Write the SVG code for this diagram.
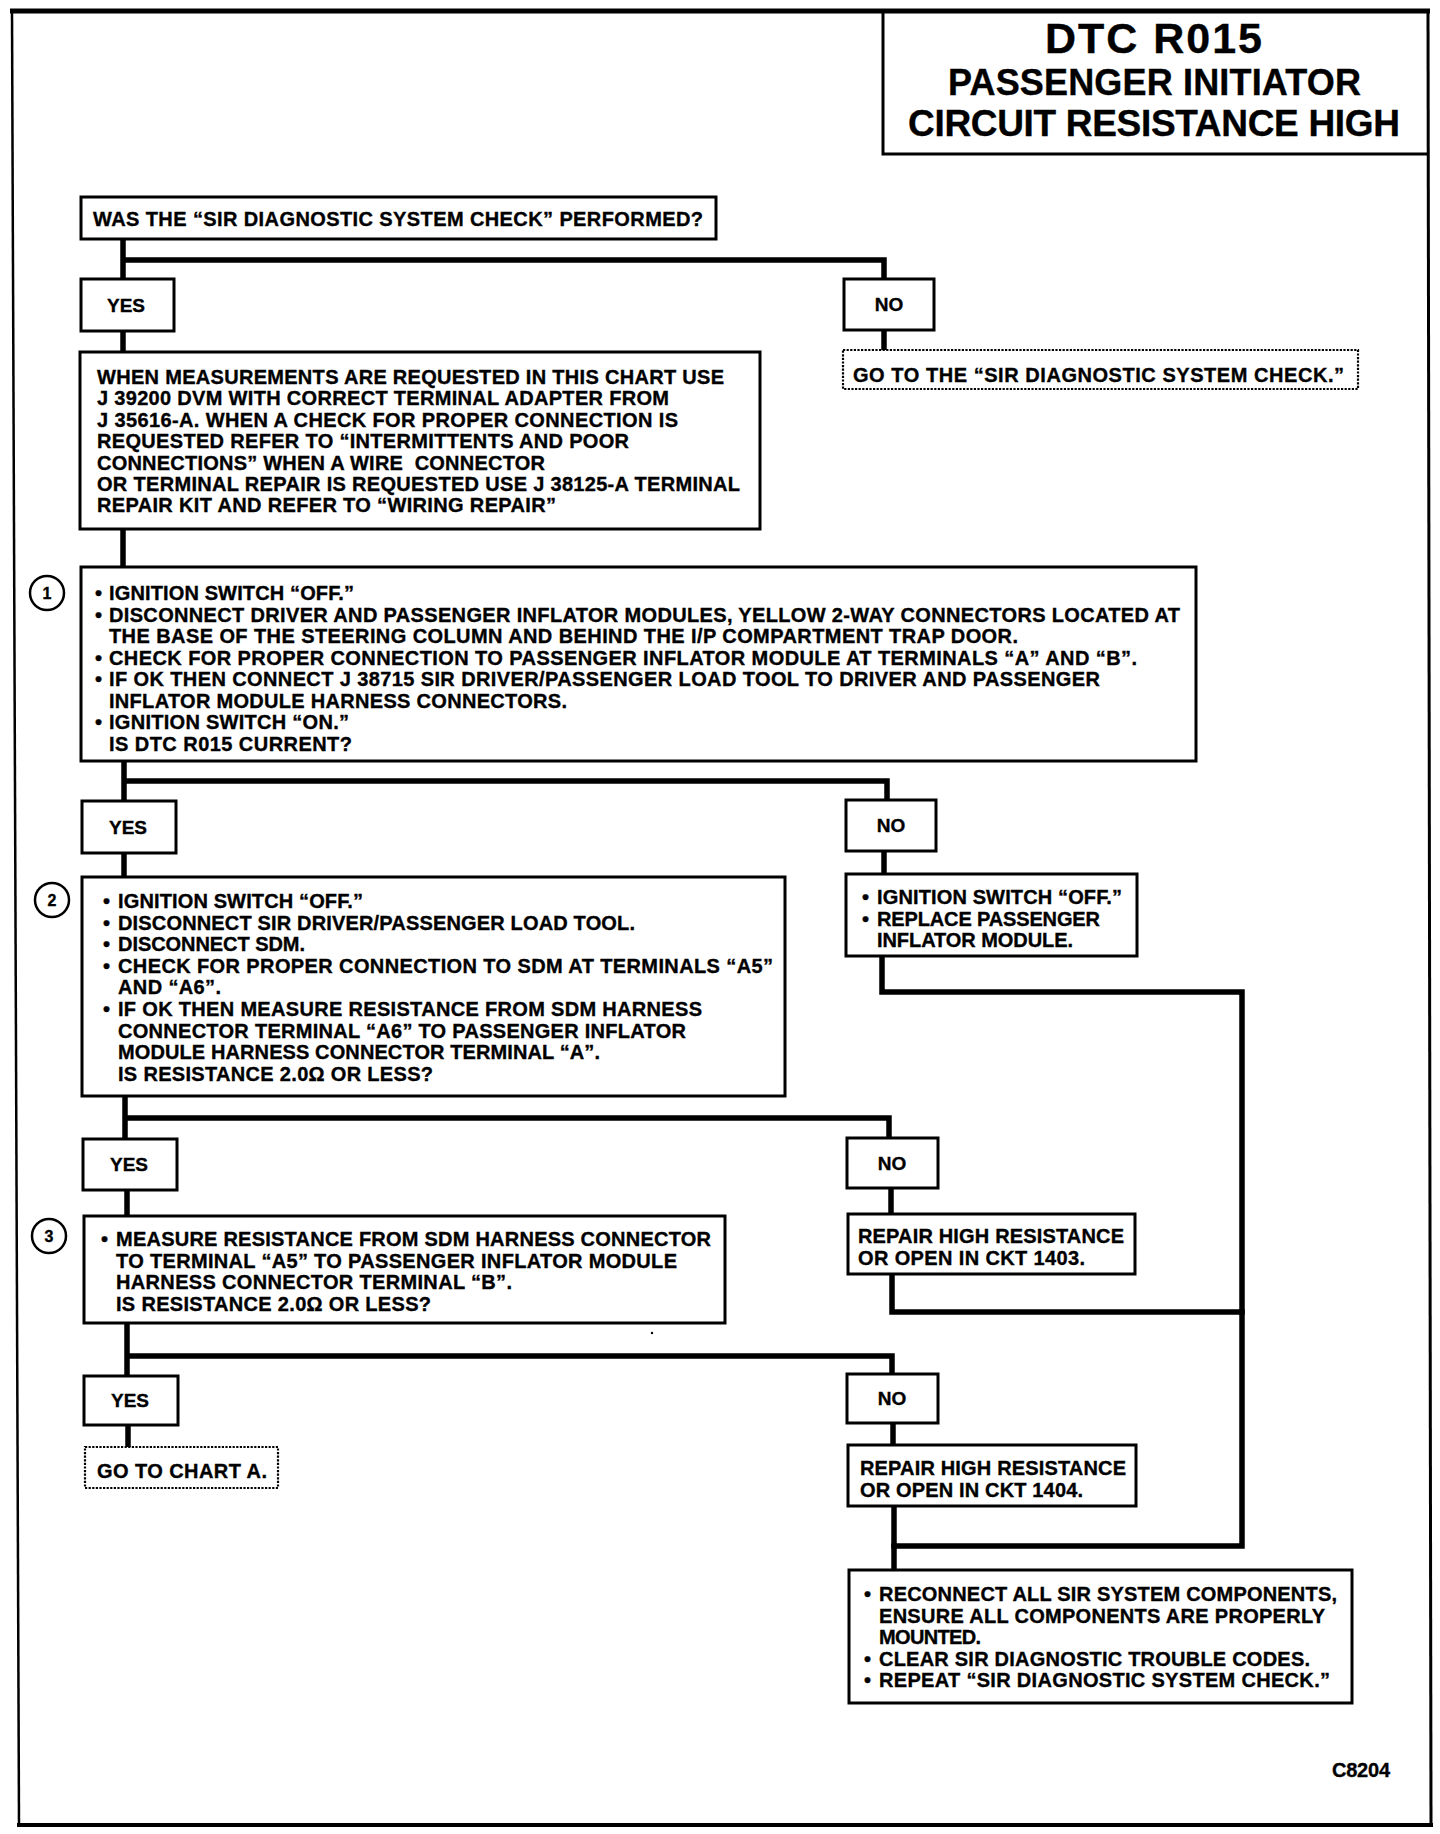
<svg xmlns="http://www.w3.org/2000/svg" width="1440" height="1834" viewBox="0 0 1440 1834">
<style>
text{font-family:"Liberation Sans",Arial,"Noto Sans",sans-serif;font-weight:bold;fill:#000;stroke:#000;stroke-width:0.35}
.t{font-size:20px}
.lab{font-size:19px;text-anchor:middle}
.box{fill:#fff;stroke:#000;stroke-width:3}
.dot{fill:#fff;stroke:#000;stroke-width:2.2;stroke-dasharray:2.2 1.4}
.con{fill:none;stroke:#000;stroke-width:5.5;stroke-linejoin:miter;stroke-linecap:square}
.num{fill:#fff;stroke:#000;stroke-width:2.5}
.numt{font-size:16px;text-anchor:middle}
.frame{stroke:#000;fill:none}
</style>
<rect width="1440" height="1834" fill="#fff"/>
<g id="frame">
<line class="frame" x1="10" y1="11" x2="1430" y2="11" stroke-width="5"/>
<line class="frame" x1="12" y1="11" x2="19" y2="1825" stroke-width="2.5"/>
<line class="frame" x1="1428" y1="11" x2="1431" y2="1825" stroke-width="3"/>
<line class="frame" x1="17" y1="1825" x2="1433" y2="1825" stroke-width="4"/>
</g>
<g id="title">
<polyline class="frame" points="883,11 883,154 1429,154" stroke-width="3"/>
<text x="1045" y="53" font-size="43" textLength="217">DTC R015</text>
<text x="948" y="95" font-size="36" textLength="413">PASSENGER INITIATOR</text>
<text x="908" y="136" font-size="37" textLength="492">CIRCUIT RESISTANCE HIGH</text>
</g>
<g id="connectors">
<path class="con" d="M123,239 V279 M123,260 H884 V279"/>
<path class="con" d="M123,331 V352"/>
<path class="con" d="M884,330 V350"/>
<path class="con" d="M123,529 V567"/>
<path class="con" d="M124,761 V801 M124,781 H887 V800"/>
<path class="con" d="M124,853 V877"/>
<path class="con" d="M884,851 V874"/>
<path class="con" d="M882,956 V992 H1242 V1546 H894"/>
<path class="con" d="M125,1096 V1139 M125,1118 H889 V1138"/>
<path class="con" d="M127,1190 V1216"/>
<path class="con" d="M891,1188 V1214"/>
<path class="con" d="M892,1274 V1312 H1242"/>
<path class="con" d="M127,1323 V1376 M127,1356 H892 V1374"/>
<path class="con" d="M128,1425 V1447"/>
<path class="con" d="M893,1423 V1445"/>
<path class="con" d="M894,1506 V1570"/>
</g>
<g id="q0">
<rect class="box" x="81" y="197" width="635" height="42"/>
<text class="t" x="93" y="226" textLength="610">WAS THE “SIR DIAGNOSTIC SYSTEM CHECK” PERFORMED?</text>
</g>
<g id="yes1"><rect class="box" x="81" y="279" width="93" height="52"/><text class="lab" x="126" y="312">YES</text></g>
<g id="no1"><rect class="box" x="844" y="279" width="90" height="51"/><text class="lab" x="889" y="311">NO</text></g>
<g id="goto1">
<rect class="dot" x="843" y="350" width="515" height="39"/>
<text class="t" x="853" y="382" textLength="491">GO TO THE “SIR DIAGNOSTIC SYSTEM CHECK.”</text>
</g>
<g id="note">
<rect class="box" x="80" y="352" width="680" height="177"/>
<text class="t" x="97" y="384" textLength="627">WHEN MEASUREMENTS ARE REQUESTED IN THIS CHART USE</text>
<text class="t" x="97" y="405.4" textLength="572">J 39200 DVM WITH CORRECT TERMINAL ADAPTER FROM</text>
<text class="t" x="97" y="426.8" textLength="581">J 35616-A. WHEN A CHECK FOR PROPER CONNECTION IS</text>
<text class="t" x="97" y="448.2" textLength="532">REQUESTED REFER TO “INTERMITTENTS AND POOR</text>
<text class="t" x="97" y="469.6" textLength="448" xml:space="preserve">CONNECTIONS” WHEN A WIRE  CONNECTOR</text>
<text class="t" x="97" y="491" textLength="643">OR TERMINAL REPAIR IS REQUESTED USE J 38125-A TERMINAL</text>
<text class="t" x="97" y="512.4" textLength="459">REPAIR KIT AND REFER TO “WIRING REPAIR”</text>
</g>
<g id="step1">
<circle class="num" cx="47" cy="593" r="17"/><text class="numt" x="47" y="599">1</text>
<rect class="box" x="81" y="567" width="1115" height="194"/>
<text class="t" x="95" y="600">•</text><text class="t" x="109" y="600" textLength="245">IGNITION SWITCH “OFF.”</text>
<text class="t" x="95" y="621.5">•</text><text class="t" x="109" y="621.5" textLength="1071">DISCONNECT DRIVER AND PASSENGER INFLATOR MODULES, YELLOW 2-WAY CONNECTORS LOCATED AT</text>
<text class="t" x="109" y="643" textLength="909">THE BASE OF THE STEERING COLUMN AND BEHIND THE I/P COMPARTMENT TRAP DOOR.</text>
<text class="t" x="95" y="664.5">•</text><text class="t" x="109" y="664.5" textLength="1028">CHECK FOR PROPER CONNECTION TO PASSENGER INFLATOR MODULE AT TERMINALS “A” AND “B”.</text>
<text class="t" x="95" y="686">•</text><text class="t" x="109" y="686" textLength="991">IF OK THEN CONNECT J 38715 SIR DRIVER/PASSENGER LOAD TOOL TO DRIVER AND PASSENGER</text>
<text class="t" x="109" y="707.5" textLength="458">INFLATOR MODULE HARNESS CONNECTORS.</text>
<text class="t" x="95" y="729">•</text><text class="t" x="109" y="729" textLength="240">IGNITION SWITCH “ON.”</text>
<text class="t" x="109" y="750.5" textLength="243">IS DTC R015 CURRENT?</text>
</g>
<g id="yes2"><rect class="box" x="82" y="801" width="94" height="52"/><text class="lab" x="128" y="834">YES</text></g>
<g id="no2"><rect class="box" x="846" y="800" width="90" height="51"/><text class="lab" x="891" y="832">NO</text></g>
<g id="step2">
<circle class="num" cx="52" cy="900" r="17"/><text class="numt" x="52" y="906">2</text>
<rect class="box" x="82" y="877" width="703" height="219"/>
<text class="t" x="103" y="908">•</text><text class="t" x="118" y="908" textLength="245">IGNITION SWITCH “OFF.”</text>
<text class="t" x="103" y="929.6">•</text><text class="t" x="118" y="929.6" textLength="517">DISCONNECT SIR DRIVER/PASSENGER LOAD TOOL.</text>
<text class="t" x="103" y="951.2">•</text><text class="t" x="118" y="951.2" textLength="187">DISCONNECT SDM.</text>
<text class="t" x="103" y="972.8">•</text><text class="t" x="118" y="972.8" textLength="655">CHECK FOR PROPER CONNECTION TO SDM AT TERMINALS “A5”</text>
<text class="t" x="118" y="994.4" textLength="103">AND “A6”.</text>
<text class="t" x="103" y="1016">•</text><text class="t" x="118" y="1016" textLength="584">IF OK THEN MEASURE RESISTANCE FROM SDM HARNESS</text>
<text class="t" x="118" y="1037.6" textLength="568">CONNECTOR TERMINAL “A6” TO PASSENGER INFLATOR</text>
<text class="t" x="118" y="1059.2" textLength="482">MODULE HARNESS CONNECTOR TERMINAL “A”.</text>
<text class="t" x="118" y="1080.8" textLength="315">IS RESISTANCE 2.0Ω OR LESS?</text>
</g>
<g id="replace">
<rect class="box" x="846" y="874" width="291" height="82"/>
<text class="t" x="862" y="904">•</text><text class="t" x="877" y="904" textLength="245">IGNITION SWITCH “OFF.”</text>
<text class="t" x="862" y="925.5">•</text><text class="t" x="877" y="925.5" textLength="223">REPLACE PASSENGER</text>
<text class="t" x="877" y="947" textLength="196">INFLATOR MODULE.</text>
</g>
<g id="yes3"><rect class="box" x="83" y="1139" width="94" height="51"/><text class="lab" x="129" y="1171">YES</text></g>
<g id="no3"><rect class="box" x="847" y="1138" width="91" height="50"/><text class="lab" x="892" y="1170">NO</text></g>
<g id="step3">
<circle class="num" cx="49" cy="1236" r="17"/><text class="numt" x="49" y="1242">3</text>
<rect class="box" x="84" y="1216" width="641" height="107"/>
<text class="t" x="101" y="1246">•</text><text class="t" x="116" y="1246" textLength="595">MEASURE RESISTANCE FROM SDM HARNESS CONNECTOR</text>
<text class="t" x="116" y="1267.5" textLength="561">TO TERMINAL “A5” TO PASSENGER INFLATOR MODULE</text>
<text class="t" x="116" y="1289" textLength="396">HARNESS CONNECTOR TERMINAL “B”.</text>
<text class="t" x="116" y="1310.5" textLength="315">IS RESISTANCE 2.0Ω OR LESS?</text>
</g>
<g id="repair1403">
<rect class="box" x="848" y="1214" width="287" height="60"/>
<text class="t" x="858" y="1243" textLength="266">REPAIR HIGH RESISTANCE</text>
<text class="t" x="858" y="1264.5" textLength="227">OR OPEN IN CKT 1403.</text>
</g>
<circle cx="652" cy="1333" r="1.2" fill="#000"/>
<g id="yes4"><rect class="box" x="84" y="1376" width="94" height="49"/><text class="lab" x="130" y="1407">YES</text></g>
<g id="no4"><rect class="box" x="847" y="1374" width="91" height="49"/><text class="lab" x="892" y="1405">NO</text></g>
<g id="chartA">
<rect class="dot" x="85" y="1447" width="193" height="41"/>
<text class="t" x="97" y="1478" textLength="170">GO TO CHART A.</text>
</g>
<g id="repair1404">
<rect class="box" x="848" y="1445" width="288" height="61"/>
<text class="t" x="860" y="1475" textLength="266">REPAIR HIGH RESISTANCE</text>
<text class="t" x="860" y="1497" textLength="223">OR OPEN IN CKT 1404.</text>
</g>
<g id="final">
<rect class="box" x="849" y="1570" width="503" height="133"/>
<text class="t" x="864" y="1601">•</text><text class="t" x="879" y="1601" textLength="458">RECONNECT ALL SIR SYSTEM COMPONENTS,</text>
<text class="t" x="879" y="1622.5" textLength="446">ENSURE ALL COMPONENTS ARE PROPERLY</text>
<text class="t" x="879" y="1644" textLength="102">MOUNTED.</text>
<text class="t" x="864" y="1665.5">•</text><text class="t" x="879" y="1665.5" textLength="431">CLEAR SIR DIAGNOSTIC TROUBLE CODES.</text>
<text class="t" x="864" y="1687">•</text><text class="t" x="879" y="1687" textLength="451">REPEAT “SIR DIAGNOSTIC SYSTEM CHECK.”</text>
</g>
<text class="t" x="1332" y="1777" textLength="58">C8204</text>
</svg>
